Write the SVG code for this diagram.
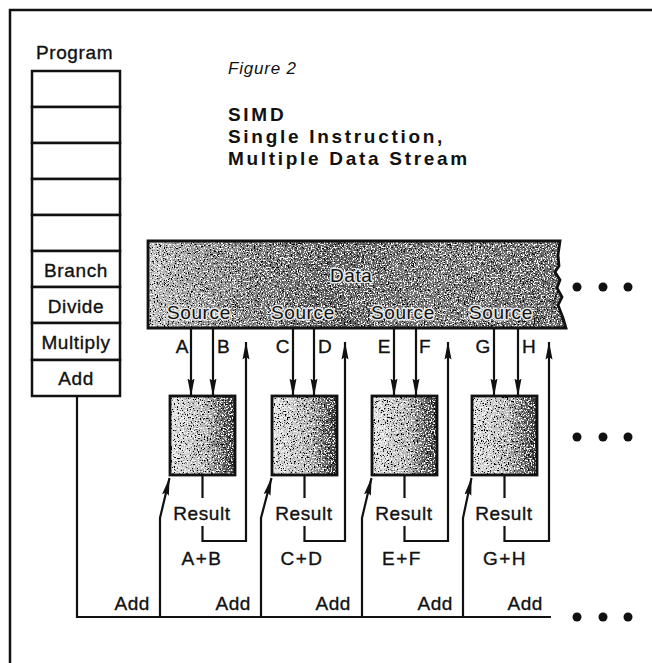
<svg xmlns="http://www.w3.org/2000/svg" width="652" height="663" viewBox="0 0 652 663">
<style>
text{font-family:"Liberation Sans",Arial,sans-serif;fill:#111}
.lb{font-size:19px;letter-spacing:0.6px;stroke:#111;stroke-width:0.35px}
.on{paint-order:stroke;stroke:#e8e8e8;stroke-width:3px;stroke-linejoin:round}
.big{font-size:19px;font-weight:bold;letter-spacing:2.7px}
.fig{font-size:17px;font-style:italic;letter-spacing:0.8px}
.ln{fill:none;stroke:#111;stroke-width:2.2}
.box{fill:none;stroke:#111;stroke-width:2.8}
.row{fill:#fff;stroke:#111;stroke-width:2.5}
.dot{fill:#111}
</style>
<defs>
<marker id="ah" viewBox="0 0 18 8" refX="17.5" refY="4" markerWidth="18" markerHeight="8" markerUnits="userSpaceOnUse" orient="auto">
<path d="M0,0.5 L18,4 L0,7.5 L2.5,4 z" fill="#111"/>
</marker>
<linearGradient id="peg" x1="0" y1="0" x2="1" y2="0">
<stop offset="0" stop-color="#e6e6e6"/>
<stop offset="0.55" stop-color="#b8b8b8"/>
<stop offset="0.8" stop-color="#6a6a6a"/>
<stop offset="1" stop-color="#333"/>
</linearGradient>
<linearGradient id="dg" x1="0" y1="0" x2="1" y2="0">
<stop offset="0" stop-color="#c4c4c4"/>
<stop offset="0.15" stop-color="#8e8e8e"/>
<stop offset="0.45" stop-color="#5e5e5e"/>
<stop offset="0.7" stop-color="#7a7a7a"/>
<stop offset="1" stop-color="#666"/>
</linearGradient>
<filter id="grain" x="0" y="0" width="1" height="1">
<feTurbulence type="fractalNoise" baseFrequency="0.7" numOctaves="3" seed="4" result="t"/>
<feColorMatrix in="t" type="matrix" values="0 0 0 0 0  0 0 0 0 0  0 0 0 0 0  9 0 0 0 -4.9" result="blk"/>
<feColorMatrix in="t" type="matrix" values="0 0 0 0 1  0 0 0 0 1  0 0 0 0 1  0 -9 0 0 4.1" result="wht"/>
<feMerge result="m"><feMergeNode in="SourceGraphic"/><feMergeNode in="blk"/><feMergeNode in="wht"/></feMerge>
<feComposite in="m" in2="SourceGraphic" operator="in"/>
</filter>
</defs>
<rect x="0" y="0" width="652" height="663" fill="#fff"/>

<g id="frame"><path d="M10,663 V10 H652" fill="none" stroke="#111" stroke-width="2.5"/></g>

<g id="titles">
<text class="fig" x="228" y="74">Figure 2</text>
<text class="big" x="228" y="121">SIMD</text>
<text class="big" x="228" y="143">Single Instruction,</text>
<text class="big" x="228" y="165">Multiple Data Stream</text>
</g>

<g id="program">
<text class="lb" x="36" y="59">Program</text>
<g id="row1"><rect class="row" x="32" y="71" width="88" height="36"/></g>
<g id="row2"><rect class="row" x="32" y="107" width="88" height="36"/></g>
<g id="row3"><rect class="row" x="32" y="143" width="88" height="36"/></g>
<g id="row4"><rect class="row" x="32" y="179" width="88" height="36"/></g>
<g id="row5"><rect class="row" x="32" y="215" width="88" height="36"/></g>
<g id="row-branch"><rect class="row" x="32" y="251" width="88" height="36"/><text class="lb" x="76" y="277" text-anchor="middle">Branch</text></g>
<g id="row-divide"><rect class="row" x="32" y="287" width="88" height="36"/><text class="lb" x="76" y="313" text-anchor="middle">Divide</text></g>
<g id="row-multiply"><rect class="row" x="32" y="323" width="88" height="37"/><text class="lb" x="76" y="349" text-anchor="middle">Multiply</text></g>
<g id="row-add"><rect class="row" x="32" y="360" width="88" height="36"/><text class="lb" x="76" y="385" text-anchor="middle">Add</text></g>
</g>

<g id="data">
<path d="M148,241 H560 L558,255 L559,266 L555,272 L560,280 L557,288 L562,297 L558,305 L563,318 L566,328 H148 Z" fill="url(#dg)" filter="url(#grain)"/>
<path d="M148,241 H560 L558,255 L559,266 L555,272 L560,280 L557,288 L562,297 L558,305 L563,318 L566,328 H148 Z" class="box"/>
<text class="lb on" x="330" y="282">Data</text>
<text class="lb on" x="167" y="319">Source</text>
<text class="lb on" x="271" y="319">Source</text>
<text class="lb on" x="371" y="319">Source</text>
<text class="lb on" x="469" y="319">Source</text>
</g>

<g id="pe1"><rect x="170" y="396" width="65" height="79" fill="url(#peg)" filter="url(#grain)"/><rect class="box" x="170" y="396" width="65" height="79"/></g>
<g id="pe2"><rect x="272" y="396" width="65" height="79" fill="url(#peg)" filter="url(#grain)"/><rect class="box" x="272" y="396" width="65" height="79"/></g>
<g id="pe3"><rect x="372" y="396" width="65" height="79" fill="url(#peg)" filter="url(#grain)"/><rect class="box" x="372" y="396" width="65" height="79"/></g>
<g id="pe4"><rect x="472" y="396" width="65" height="79" fill="url(#peg)" filter="url(#grain)"/><rect class="box" x="472" y="396" width="65" height="79"/></g>

<g id="connectors">
<path class="ln" d="M77,396 V617 H551"/>
<path class="ln" d="M191,328 V396" marker-end="url(#ah)"/>
<path class="ln" d="M213,328 V396" marker-end="url(#ah)"/>
<path class="ln" d="M293,328 V396" marker-end="url(#ah)"/>
<path class="ln" d="M314,328 V396" marker-end="url(#ah)"/>
<path class="ln" d="M394,328 V396" marker-end="url(#ah)"/>
<path class="ln" d="M416,328 V396" marker-end="url(#ah)"/>
<path class="ln" d="M494,328 V396" marker-end="url(#ah)"/>
<path class="ln" d="M518,328 V396" marker-end="url(#ah)"/>
<path class="ln" d="M202.5,475 V498"/>
<path class="ln" d="M304.5,475 V498"/>
<path class="ln" d="M404.5,475 V498"/>
<path class="ln" d="M504.5,475 V498"/>
<path class="ln" d="M202.5,526 V541 H246 V342" marker-end="url(#ah)"/>
<path class="ln" d="M304.5,526 V541 H345 V342" marker-end="url(#ah)"/>
<path class="ln" d="M404.5,526 V541 H448 V342" marker-end="url(#ah)"/>
<path class="ln" d="M504.5,526 V541 H549 V342" marker-end="url(#ah)"/>
<path class="ln" d="M160,617 V518 L169.5,478" marker-end="url(#ah)"/>
<path class="ln" d="M261,617 V518 L271.5,478" marker-end="url(#ah)"/>
<path class="ln" d="M362,617 V518 L371.5,478" marker-end="url(#ah)"/>
<path class="ln" d="M463,617 V518 L471.5,478" marker-end="url(#ah)"/>
</g>

<g id="labels">
<text class="lb" x="189" y="353" text-anchor="end">A</text>
<text class="lb" x="217" y="353">B</text>
<text class="lb" x="290" y="353" text-anchor="end">C</text>
<text class="lb" x="318" y="353">D</text>
<text class="lb" x="391" y="353" text-anchor="end">E</text>
<text class="lb" x="419" y="353">F</text>
<text class="lb" x="491" y="353" text-anchor="end">G</text>
<text class="lb" x="522" y="353">H</text>
<text class="lb" x="202" y="520" text-anchor="middle">Result</text>
<text class="lb" x="304" y="520" text-anchor="middle">Result</text>
<text class="lb" x="404" y="520" text-anchor="middle">Result</text>
<text class="lb" x="504" y="520" text-anchor="middle">Result</text>
<text class="lb" x="202" y="565" text-anchor="middle" style="letter-spacing:1.5px">A+B</text>
<text class="lb" x="302" y="565" text-anchor="middle" style="letter-spacing:1.5px">C+D</text>
<text class="lb" x="402" y="565" text-anchor="middle" style="letter-spacing:1.5px">E+F</text>
<text class="lb" x="505" y="565" text-anchor="middle" style="letter-spacing:1.5px">G+H</text>
<text class="lb" x="150" y="610" text-anchor="end">Add</text>
<text class="lb" x="251" y="610" text-anchor="end">Add</text>
<text class="lb" x="351" y="610" text-anchor="end">Add</text>
<text class="lb" x="453" y="610" text-anchor="end">Add</text>
<text class="lb" x="543" y="610" text-anchor="end">Add</text>
</g>

<g id="ellipses">
<circle class="dot" cx="577" cy="287" r="4.5"/><circle class="dot" cx="603" cy="287" r="4.5"/><circle class="dot" cx="628" cy="287" r="4.5"/>
<circle class="dot" cx="577" cy="437" r="4.5"/><circle class="dot" cx="603" cy="437" r="4.5"/><circle class="dot" cx="628" cy="437" r="4.5"/>
<circle class="dot" cx="577" cy="617" r="4.5"/><circle class="dot" cx="603" cy="617" r="4.5"/><circle class="dot" cx="628" cy="617" r="4.5"/>
</g>
</svg>
